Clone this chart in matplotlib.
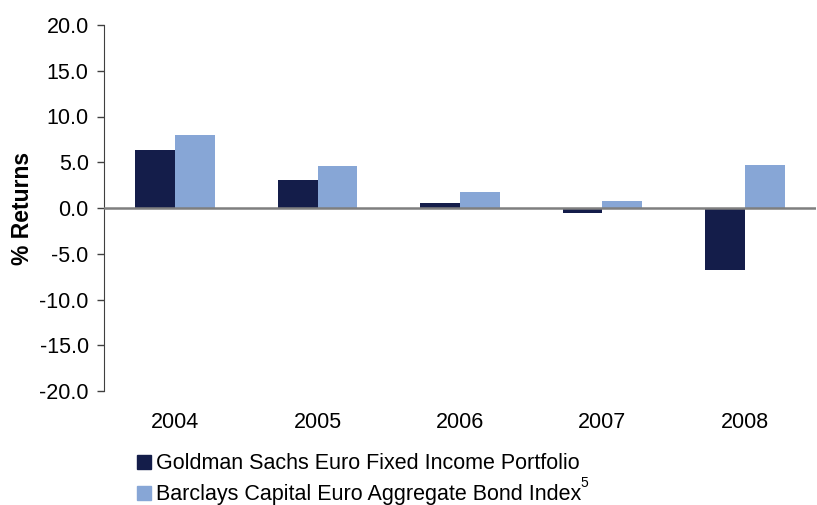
import matplotlib
matplotlib.use("Agg")
import matplotlib.pyplot as plt
import numpy as np
from matplotlib.patches import Rectangle

plt.rcParams["font.family"] = ["Liberation Sans", "DejaVu Sans"]

years = ["2004", "2005", "2006", "2007", "2008"]
gs_fund = [6.3, 3.1, 0.6, -0.5, -6.8]
barclays_idx = [8.0, 4.6, 1.8, 0.8, 4.7]
series_names = ["Goldman Sachs Euro Fixed Income Portfolio",
                "Barclays Capital Euro Aggregate Bond Index"]
yticks = [-20, -15, -10, -5, 0, 5, 10, 15, 20]

DARK = "#141d4a"
LIGHT = "#87a6d6"
W, H = 817, 505

fig = plt.figure(figsize=(W / 100, H / 100), dpi=100)
ax = fig.add_axes([104 / W, 1 - 391 / H, 712 / W, 366 / H])

x = np.arange(len(years))
w = 0.28
ax.bar(x - w / 2, gs_fund, w, color=DARK)
ax.bar(x + w / 2, barclays_idx, w, color=LIGHT)

ax.axhline(0, color="#7f7f7f", lw=1.8, zorder=3)
ax.set_xlim(-0.5, len(years) - 0.5)
ax.set_ylim(-20, 20)
ax.set_yticks(yticks)
ax.set_yticklabels([f"{v:.1f}" for v in yticks], fontsize=15.5)
ax.set_xticks(x)
ax.set_xticklabels(years, fontsize=15.5)
ax.tick_params(axis="x", length=0, pad=15)
ax.tick_params(axis="y", length=5, width=1, color="#404040", pad=6)

for side in ("top", "right", "bottom"):
    ax.spines[side].set_visible(False)
ax.spines["left"].set_color("#404040")
ax.set_ylabel("% Returns", fontsize=16.5, fontweight="bold", labelpad=4)

# legend drawn by hand below the axes, in figure pixels
for i, (name, col) in enumerate(zip(series_names, [DARK, LIGHT])):
    base = 469 + 31 * i
    fig.add_artist(Rectangle((137 / W, 1 - base / H), 14 / W, 14 / H,
                             transform=fig.transFigure, color=col))
    fig.text(156 / W, 1 - base / H, name, fontsize=15.5, va="baseline")

fig.text(584 / W, 1 - 483 / H, "5", fontsize=10, ha="center", va="center")

fig.savefig("out.png", dpi=100)
